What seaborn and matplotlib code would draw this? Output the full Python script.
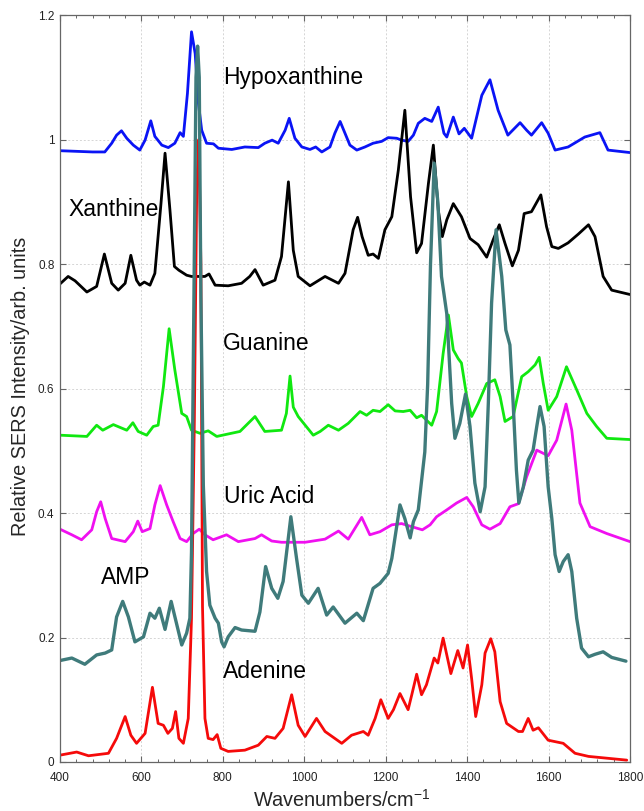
import matplotlib
matplotlib.use("Agg")
import matplotlib.pyplot as plt
from matplotlib.ticker import MultipleLocator, FixedLocator
import seaborn as sns

# ---------------- data ----------------
hypo_x = [400, 440, 480, 510, 527, 539, 551, 564, 580, 596, 609, 623, 633, 650, 666, 682, 695, 703, 713, 723,
          732, 740, 748, 760, 777, 789, 822, 854, 887, 903, 921, 936, 953, 963, 977, 994, 1014, 1028, 1043, 1063,
          1075, 1088, 1100, 1112, 1129, 1149, 1169, 1190, 1206, 1227, 1239, 1255, 1268, 1280, 1296, 1313, 1329, 1343, 1350, 1366,
          1380, 1393, 1411, 1436, 1456, 1476, 1500, 1530, 1546, 1558, 1583, 1599, 1616, 1648, 1689, 1726, 1746, 1800]
hypo_y = [0.982, 0.981, 0.98, 0.98, 0.994, 1.007, 1.014, 1.002, 0.991, 0.983, 0.999, 1.030, 1.005, 0.991, 0.987, 0.994, 1.011, 1.005, 1.074, 1.173,
          1.138, 1.058, 1.015, 0.994, 0.993, 0.986, 0.984, 0.988, 0.987, 0.994, 0.999, 0.994, 1.015, 1.034, 1.002, 0.988, 0.984, 0.988, 0.980, 0.988,
          1.010, 1.029, 1.010, 0.991, 0.983, 0.988, 0.994, 0.997, 1.003, 1.002, 0.999, 0.997, 1.007, 1.026, 1.034, 1.029, 1.052, 1.010, 1.004, 1.036,
          1.009, 1.018, 1.002, 1.071, 1.096, 1.047, 1.007, 1.027, 1.015, 1.007, 1.027, 1.010, 0.983, 0.988, 1.004, 1.011, 0.983, 0.979]

xan_x = [400, 420, 437, 466, 490, 509, 527, 543, 560, 574, 588, 596, 607, 621, 633, 648, 658, 670, 681,
         692, 711, 723, 740, 756, 766, 781, 813, 846, 866, 879, 899, 928, 944, 961, 973, 985, 1014, 1051, 1084,
         1100, 1120, 1131, 1142, 1157, 1169, 1182, 1198, 1215, 1231, 1247, 1261, 1276, 1288, 1305, 1317, 1329, 1339, 1350, 1366,
         1386, 1407, 1427, 1448, 1464, 1479, 1493, 1511, 1526, 1540, 1558, 1581, 1595, 1608, 1624, 1648, 1673, 1698, 1714, 1734,
         1755, 1800]
xan_y = [0.768, 0.780, 0.773, 0.755, 0.764, 0.816, 0.769, 0.758, 0.769, 0.814, 0.774, 0.766, 0.771, 0.766, 0.785, 0.897, 0.978, 0.887, 0.796,
         0.790, 0.782, 0.780, 0.780, 0.780, 0.784, 0.766, 0.765, 0.769, 0.780, 0.791, 0.766, 0.774, 0.812, 0.932, 0.822, 0.780, 0.765, 0.780, 0.769,
         0.785, 0.855, 0.875, 0.844, 0.814, 0.816, 0.809, 0.855, 0.876, 0.951, 1.047, 0.908, 0.818, 0.833, 0.930, 0.991, 0.887, 0.844, 0.871, 0.897,
         0.876, 0.841, 0.831, 0.811, 0.839, 0.863, 0.833, 0.797, 0.822, 0.881, 0.884, 0.911, 0.860, 0.828, 0.825, 0.834, 0.848, 0.863, 0.844, 0.780,
         0.758, 0.751]

gua_x = [400, 466, 490, 505, 531, 564, 579, 592, 613, 629, 641, 654, 668, 682, 699, 711, 723, 744, 764, 785,
         842, 879, 903, 944, 956, 965, 973, 985, 1022, 1039, 1059, 1084, 1108, 1137, 1153, 1169, 1186, 1206, 1223, 1243,
         1260, 1276, 1288, 1313, 1325, 1341, 1354, 1366, 1378, 1386, 1399, 1411, 1427, 1448, 1468, 1481, 1493, 1513, 1534, 1550,
         1567, 1577, 1587, 1599, 1620, 1644, 1669, 1694, 1718, 1743, 1800]
gua_y = [0.525, 0.523, 0.541, 0.533, 0.542, 0.533, 0.545, 0.531, 0.525, 0.539, 0.541, 0.603, 0.696, 0.630, 0.560, 0.555, 0.533, 0.528, 0.532, 0.523,
         0.531, 0.555, 0.531, 0.533, 0.560, 0.620, 0.570, 0.555, 0.525, 0.531, 0.541, 0.533, 0.544, 0.563, 0.557, 0.565, 0.563, 0.574, 0.564, 0.563,
         0.565, 0.553, 0.557, 0.541, 0.563, 0.656, 0.718, 0.662, 0.648, 0.641, 0.587, 0.555, 0.576, 0.608, 0.614, 0.587, 0.547, 0.555, 0.619, 0.627,
         0.638, 0.650, 0.608, 0.565, 0.587, 0.635, 0.598, 0.560, 0.539, 0.520, 0.518]

uric_x = [400, 429, 453, 478, 490, 500, 511, 527, 560, 580, 591, 602, 621, 633, 646, 662, 678, 695, 711, 727,
          742, 756, 776, 809, 838, 879, 895, 920, 944, 1002, 1051, 1084, 1108, 1141, 1161, 1186, 1215, 1239, 1264, 1290,
          1309, 1325, 1350, 1374, 1399, 1415, 1436, 1456, 1481, 1505, 1526, 1546, 1571, 1599, 1620, 1643, 1657, 1677, 1702, 1743,
          1800]
uric_y = [0.374, 0.365, 0.357, 0.373, 0.402, 0.418, 0.391, 0.359, 0.354, 0.370, 0.387, 0.370, 0.375, 0.413, 0.444, 0.413, 0.386, 0.359, 0.354, 0.367,
          0.374, 0.365, 0.357, 0.365, 0.354, 0.359, 0.365, 0.355, 0.353, 0.353, 0.358, 0.371, 0.358, 0.393, 0.365, 0.370, 0.381, 0.383, 0.378, 0.373,
          0.381, 0.394, 0.405, 0.416, 0.425, 0.410, 0.381, 0.374, 0.383, 0.410, 0.415, 0.458, 0.501, 0.492, 0.517, 0.575, 0.533, 0.416, 0.378, 0.367,
          0.354]

amp_x = [400, 429, 461, 490, 511, 527, 539, 554, 568, 584, 605, 621, 633, 644, 658, 673, 686, 699, 711, 719,
         723, 729, 734, 738, 742, 746, 752, 760, 768, 781, 789, 797, 803, 813, 830, 846, 879, 891, 905, 920,
         935, 948, 967, 981, 994, 1010, 1034, 1055, 1071, 1100, 1129, 1145, 1169, 1186, 1206, 1215, 1235, 1247, 1260, 1268,
         1280, 1296, 1303, 1310, 1319, 1328, 1337, 1350, 1362, 1370, 1382, 1396, 1407, 1419, 1432, 1444, 1452, 1460, 1471, 1485,
         1495, 1505, 1513, 1521, 1527, 1538, 1550, 1562, 1571, 1579, 1589, 1599, 1608, 1616, 1626, 1636, 1648, 1657, 1669, 1681,
         1698, 1714, 1734, 1755, 1790]
amp_y = [0.163, 0.167, 0.157, 0.172, 0.175, 0.180, 0.233, 0.258, 0.233, 0.193, 0.201, 0.239, 0.231, 0.247, 0.213, 0.258, 0.223, 0.188, 0.207, 0.231,
         0.338, 0.750, 1.100, 1.150, 1.100, 0.750, 0.445, 0.306, 0.252, 0.231, 0.223, 0.193, 0.185, 0.201, 0.216, 0.212, 0.210, 0.241, 0.314, 0.279,
         0.263, 0.290, 0.394, 0.327, 0.268, 0.255, 0.279, 0.236, 0.249, 0.223, 0.239, 0.227, 0.279, 0.287, 0.303, 0.327, 0.413, 0.391, 0.360, 0.386,
         0.405, 0.498, 0.606, 0.800, 0.962, 0.900, 0.780, 0.720, 0.576, 0.520, 0.544, 0.591, 0.539, 0.448, 0.402, 0.442, 0.576, 0.737, 0.855, 0.780,
         0.694, 0.670, 0.576, 0.469, 0.416, 0.442, 0.485, 0.501, 0.539, 0.571, 0.539, 0.442, 0.391, 0.333, 0.306, 0.322, 0.333, 0.306, 0.231, 0.183,
         0.169, 0.173, 0.177, 0.168, 0.162]

ade_x = [400, 441, 470, 519, 539, 560, 574, 588, 609, 627, 641, 654, 665, 676, 684, 692, 703, 715, 723, 730,
         736, 741, 746, 750, 756, 764, 776, 786, 795, 813, 854, 887, 908, 928, 948, 969, 985, 1002, 1030, 1051,
         1092, 1116, 1145, 1157, 1174, 1188, 1206, 1219, 1235, 1255, 1264, 1276, 1288, 1300, 1319, 1328, 1341, 1360, 1377, 1390,
         1401, 1411, 1421, 1436, 1444, 1458, 1468, 1481, 1497, 1526, 1536, 1550, 1562, 1575, 1599, 1636, 1665, 1698, 1792]
ade_y = [0.011, 0.016, 0.010, 0.014, 0.038, 0.073, 0.043, 0.030, 0.046, 0.120, 0.062, 0.059, 0.046, 0.054, 0.081, 0.038, 0.030, 0.070, 0.231, 0.550,
         0.930, 1.000, 0.800, 0.250, 0.070, 0.038, 0.036, 0.044, 0.022, 0.017, 0.019, 0.027, 0.041, 0.038, 0.054, 0.108, 0.059, 0.041, 0.070, 0.049,
         0.030, 0.043, 0.049, 0.043, 0.070, 0.100, 0.070, 0.084, 0.110, 0.084, 0.108, 0.141, 0.108, 0.124, 0.167, 0.159, 0.199, 0.142, 0.179, 0.151,
         0.188, 0.134, 0.073, 0.124, 0.175, 0.198, 0.177, 0.097, 0.062, 0.049, 0.049, 0.070, 0.051, 0.055, 0.035, 0.030, 0.014, 0.009, 0.003]

labels = ["Hypoxanthine", "Xanthine", "Guanine", "Uric Acid", "AMP", "Adenine"]
label_x = [800, 422, 800, 803, 501, 800]
label_y = [1.099, 0.887, 0.673, 0.426, 0.297, 0.146]

xticks = [400, 600, 800, 1000, 1200, 1400, 1600, 1800]
yticks = [0, 0.2, 0.4, 0.6, 0.8, 1.0, 1.2]
ytick_labels = ["0", "0.2", "0.4", "0.6", "0.8", "1", "1.2"]

# ---------------- styling ----------------
sns.set_style("ticks")
plt.rcParams['font.family'] = ['Liberation Sans', 'DejaVu Sans']
plt.rcParams['mathtext.fontset'] = 'custom'
plt.rcParams['mathtext.rm'] = 'Liberation Sans'
plt.rcParams['mathtext.it'] = 'Liberation Sans:italic'

fig = plt.figure(figsize=(6.44, 8.11), dpi=100)
ax = fig.add_axes([0.09317, 0.06042, 0.8851, 0.92108])

series = [
    (hypo_x, hypo_y, "#0a14f5", 2.0),
    (xan_x, xan_y, "#000000", 2.0),
    (gua_x, gua_y, "#10e810", 2.0),
    (uric_x, uric_y, "#f010f0", 2.0),
    (ade_x, ade_y, "#f50a0a", 2.0),
    (amp_x, amp_y, "#3f7b7b", 2.4),
]
for xs, ys, col, lw in series:
    sns.lineplot(x=xs, y=ys, ax=ax, color=col, linewidth=lw, estimator=None, sort=False,
                 solid_joinstyle="round", solid_capstyle="round")

for t, lx, ly in zip(labels, label_x, label_y):
    ax.text(lx, ly, t, fontsize=16.5, ha="left", va="center", color="black")

ax.set_xlim(400, 1800)
ax.set_ylim(0, 1.2)
ax.xaxis.set_major_locator(FixedLocator(xticks))
ax.xaxis.set_minor_locator(MultipleLocator(40))
ax.yaxis.set_major_locator(FixedLocator(yticks))
ax.set_yticklabels(ytick_labels)
ax.set_xticklabels([str(v) for v in xticks])

ax.grid(True, which="major", linestyle=(0, (2, 2)), color="#d5d5d5", linewidth=0.7)
ax.set_axisbelow(True)
for s in ax.spines.values():
    s.set_color("#666666")
    s.set_linewidth(0.9)
ax.tick_params(which="both", direction="in", top=True, right=True, colors="#666666",
               labelcolor="#222222", labelsize=8.5)
ax.tick_params(which="major", length=4, width=0.8, pad=4)
ax.tick_params(which="minor", length=2.5, width=0.7)
ax.tick_params(axis="x", which="major", pad=7)

ax.set_xlabel("Wavenumbers/cm$^{-1}$", fontsize=14.3)
ax.set_ylabel("Relative SERS Intensity/arb. units", fontsize=14.3)
ax.xaxis.set_label_coords(0.495, -0.036)
ax.yaxis.set_label_coords(-0.052, 0.503)

fig.savefig("out.png", dpi=100)
